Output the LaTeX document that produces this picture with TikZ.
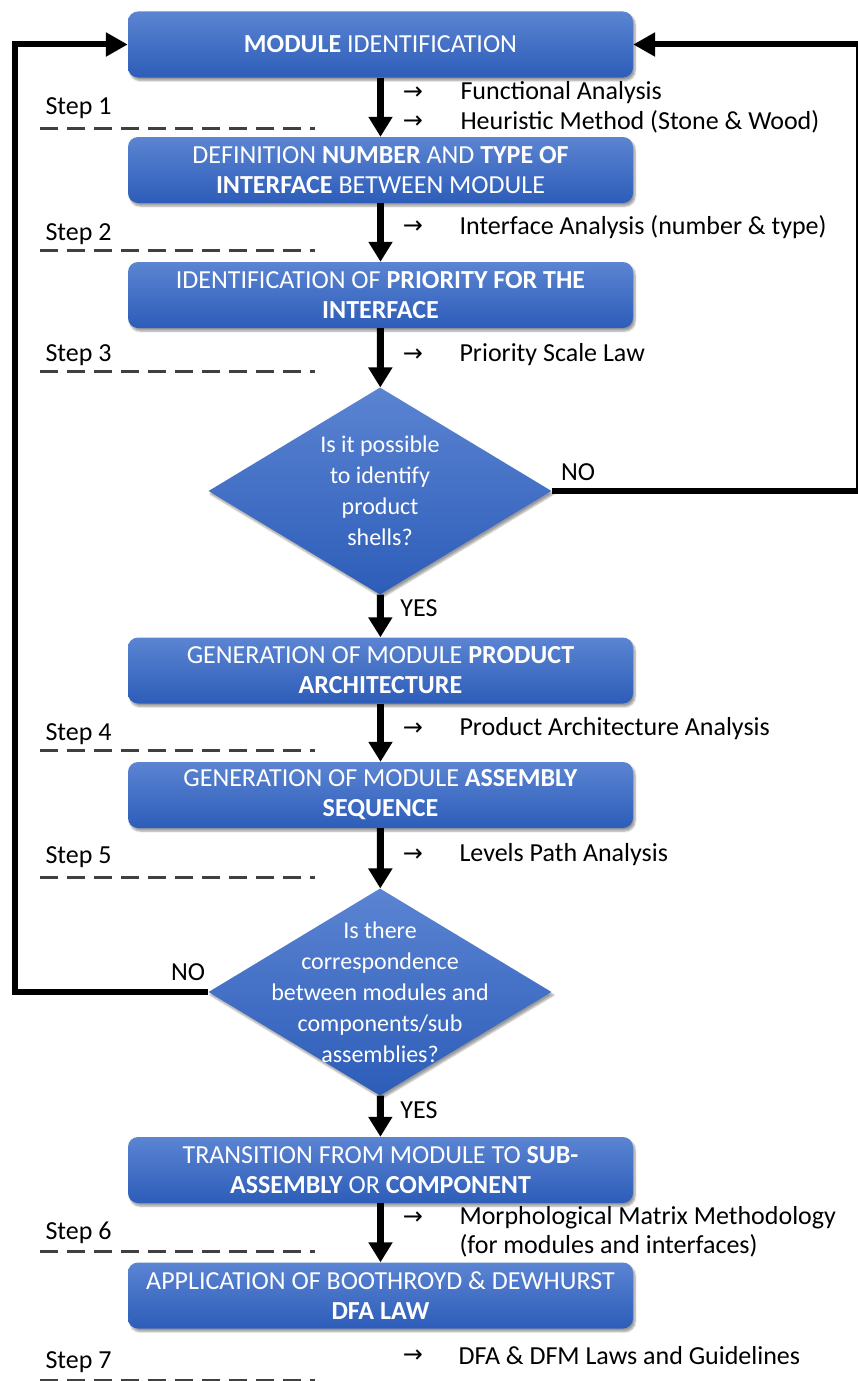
\documentclass[tikz,border=0pt]{standalone}
\usepackage{fontspec}
\setmainfont{Carlito}
\newfontfamily\arrowfont{DejaVu Sans}
\usetikzlibrary{arrows.meta,shapes.geometric,shadows.blur}
\definecolor{boxtop}{HTML}{5B84D2}
\definecolor{boxbot}{HTML}{2D5DB9}
\definecolor{stepgray}{HTML}{404040}

\begin{document}
\begin{tikzpicture}[x=1pt,y=-1pt,
  every node/.style={font=\fontsize{26}{30}\selectfont},
  stage/.style={rounded corners=10pt, minimum width=505pt, minimum height=66pt,
    top color=boxtop, bottom color=boxbot, text=white, align=center,
    blur shadow={shadow xshift=2pt, shadow yshift=-3pt, shadow blur steps=6, shadow opacity=40}},
  decision/.style={diamond, minimum width=343pt, minimum height=207pt, inner sep=0pt,
    top color=boxtop, bottom color=boxbot,
    blur shadow={shadow xshift=2pt, shadow yshift=-3pt, shadow blur steps=6, shadow opacity=40}},
  qtext/.style={text=white, align=center, font=\fontsize{24}{31}\selectfont},
  flow/.style={line width=7pt, -{Triangle[length=20pt,width=23pt]}},
  back/.style={line width=6pt, -{Triangle[length=22pt,width=23pt]}},
  stepline/.style={stepgray, line width=3pt, dash pattern=on 18pt off 9pt},
  note/.style={anchor=west},
  pointer/.style={inner sep=0pt, align=center, font=\arrowfont\fontsize{24}{29}\selectfont}
]
  \useasboundingbox (0,0) rectangle (858,1381);

  % process boxes and decisions
  \node[stage] (ident) at (380.5,44.5) {\textbf{MODULE} IDENTIFICATION};
  \node[stage] (iface) at (380.5,170) {DEFINITION \textbf{NUMBER} AND \textbf{TYPE OF}\\\textbf{INTERFACE} BETWEEN MODULE};
  \node[stage] (prio) at (380.5,295) {IDENTIFICATION OF \textbf{PRIORITY FOR THE}\\\textbf{INTERFACE}};
  \node[decision, label={[qtext]center:{Is it possible\\to identify\\product\\shells?}}] (shells) at (380,491) {};
  \node[stage] (arch) at (380.5,670.5) {GENERATION OF MODULE \textbf{PRODUCT}\\\textbf{ARCHITECTURE}};
  \node[stage] (seq) at (380.5,795) {GENERATION OF MODULE \textbf{ASSEMBLY}\\\textbf{SEQUENCE}};
  \node[decision, label={[qtext]center:{Is there\\correspondence\\between modules and\\components/sub\\assemblies?}}] (match) at (380,992) {};
  \node[stage] (trans) at (380.5,1170) {TRANSITION FROM MODULE TO \textbf{SUB-}\\\textbf{ASSEMBLY} OR \textbf{COMPONENT}};
  \node[stage] (dfa) at (380.5,1295.5) {APPLICATION OF BOOTHROYD \& DEWHURST\\\textbf{DFA LAW}};

  % main flow
  \draw[flow] (ident) -- (iface);
  \draw[flow] (iface) -- (prio);
  \draw[flow] (prio) -- (shells);
  \draw[flow] (shells) -- (arch);
  \draw[flow] (arch) -- (seq);
  \draw[flow] (seq) -- (match);
  \draw[flow] (match) -- (trans);
  \draw[flow] (trans) -- (dfa);

  % feedback loops
  \coordinate (rturn) at (859,491);
  \coordinate (lturn) at (15,992);
  \draw[back] (shells.east) -- (rturn) |- (ident.east);
  \draw[back] (match.west) -- (lturn) |- (ident.west);
  \node (no1) at (578,472) {NO};
  \node (no2) at (188,972) {NO};
  \node (yes1) at (419,608) {YES};
  \node (yes2) at (419,1110) {YES};

  % steps
  \node[note] (s1) at (42,108) {Step 1};
  \node[note] (s2) at (42,234) {Step 2};
  \node[note] (s3) at (42,355) {Step 3};
  \node[note] (s4) at (42,734) {Step 4};
  \node[note] (s5) at (42,857) {Step 5};
  \node[note] (s6) at (42,1233) {Step 6};
  \node[note] (s7) at (42,1362) {Step 7};
  \draw[stepline] (40,128) -- (315,128);
  \draw[stepline] (40,250) -- (315,250);
  \draw[stepline] (40,371) -- (315,371);
  \draw[stepline] (40,750) -- (315,750);
  \draw[stepline] (40,877) -- (315,877);
  \draw[stepline] (40,1251) -- (315,1251);
  \draw[stepline] (40,1380) -- (315,1380);

  % methods
  \node[pointer] (a1) at (413,93) {→};
  \node[note] (m1) at (457,93) {Functional Analysis};
  \node[pointer] (a2) at (413,122) {→};
  \node[note] (m2) at (457,122) {Heuristic Method (Stone \& Wood)};
  \node[pointer] (a3) at (413,227) {→};
  \node[note] (m3) at (456,227) {Interface Analysis (number \& type)};
  \node[pointer] (a4) at (413,355) {→};
  \node[note] (m4) at (456,355) {Priority Scale Law};
  \node[pointer] (a5) at (413,729) {→};
  \node[note] (m5) at (456,729) {Product Architecture Analysis};
  \node[pointer] (a6) at (413,855) {→};
  \node[note] (m6) at (456,855) {Levels Path Analysis};
  \node[pointer] (a7) at (413,1218) {→};
  \node[note] (m7) at (456,1218) {Morphological Matrix Methodology};
  \node[note] (m7b) at (456,1246) {(for modules and interfaces)};
  \node[pointer] (a8) at (413,1356) {→};
  \node[note] (m8) at (455,1356) {DFA \& DFM Laws and Guidelines};
\end{tikzpicture}
\end{document}
